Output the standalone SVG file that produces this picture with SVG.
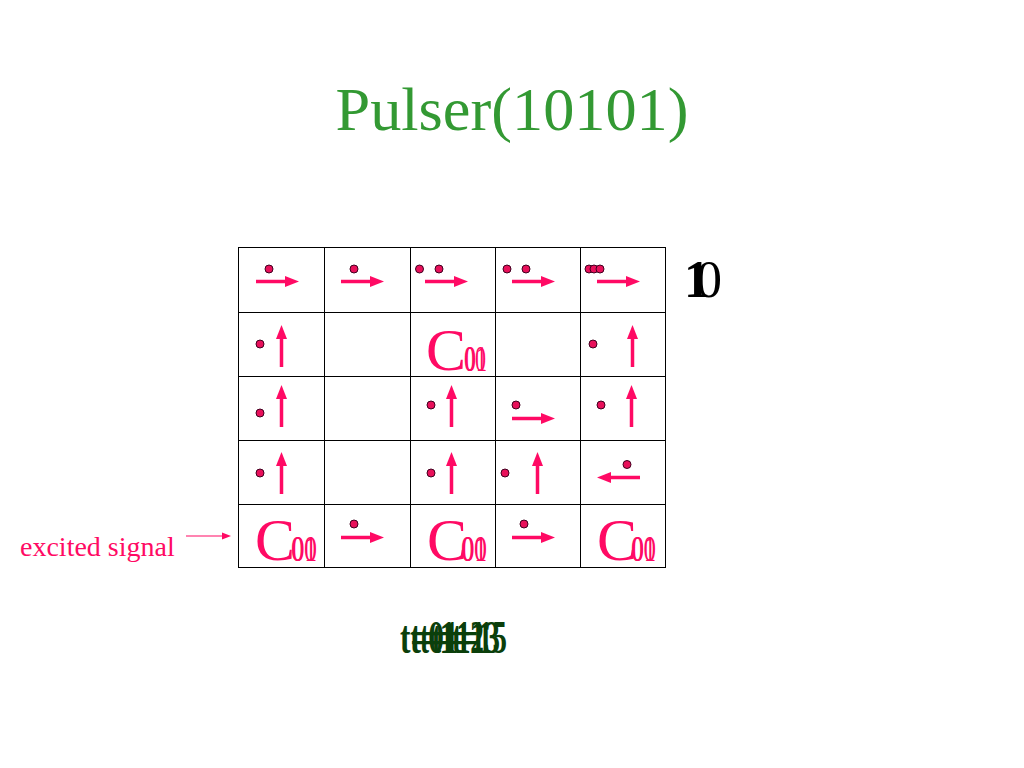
<svg xmlns="http://www.w3.org/2000/svg" width="1024" height="768" viewBox="0 0 1024 768">
<style>
.dot{fill:#e8105a;stroke:#400020;stroke-width:1}
.arr{stroke:#ff0a64;stroke-width:3.5;fill:none}
.head{fill:#ff0a64}
.c{font-family:"Liberation Serif",serif;fill:#ff0a64;font-size:60px}
.sub{font-family:"Liberation Serif",serif;fill:#ff0a64;font-size:36px}
.grid{stroke:#000;stroke-width:1;fill:none}
.t{font-family:"Liberation Serif",serif;fill:#0b3f0b;font-size:46px;font-weight:bold}
</style>
<defs>
<g id="ar"><line x1="0" y1="0" x2="31" y2="0" class="arr"/><polygon points="29,-5.5 43,0 29,5.5" class="head"/></g>
<g id="au"><line x1="0" y1="0" x2="0" y2="-30" class="arr"/><polygon points="-5.5,-28 0,-42 5.5,-28" class="head"/></g>
</defs>
<text x="512" y="130" text-anchor="middle" font-family="Liberation Serif, serif" font-size="62" fill="#339933" textLength="353" lengthAdjust="spacingAndGlyphs">Pulser(10101)</text>
<g id="grid">
<rect x="238.5" y="247.5" width="427" height="320" class="grid"/>
<line x1="324.5" y1="247" x2="324.5" y2="568" class="grid"/>
<line x1="410.5" y1="247" x2="410.5" y2="568" class="grid"/>
<line x1="495.5" y1="247" x2="495.5" y2="568" class="grid"/>
<line x1="580.5" y1="247" x2="580.5" y2="568" class="grid"/>
<line x1="238" y1="312.5" x2="666" y2="312.5" class="grid"/>
<line x1="238" y1="376.5" x2="666" y2="376.5" class="grid"/>
<line x1="238" y1="440.5" x2="666" y2="440.5" class="grid"/>
<line x1="238" y1="504.5" x2="666" y2="504.5" class="grid"/>
</g>
<g id="cells">
<g id="r1c1"><circle cx="269" cy="269" r="4" class="dot"/><use href="#ar" x="256" y="281.5"/></g>
<g id="r1c2"><circle cx="354" cy="269" r="4" class="dot"/><use href="#ar" x="341" y="281.5"/></g>
<g id="r1c3"><circle cx="419.5" cy="269" r="4" class="dot"/><circle cx="439" cy="269" r="4" class="dot"/><use href="#ar" x="425" y="281.5"/></g>
<g id="r1c4"><circle cx="507" cy="269" r="4" class="dot"/><circle cx="526" cy="269" r="4" class="dot"/><use href="#ar" x="512" y="281.5"/></g>
<g id="r1c5"><circle cx="589" cy="269" r="4" class="dot"/><circle cx="594" cy="269" r="4" class="dot"/><circle cx="600" cy="269" r="4" class="dot"/><use href="#ar" x="597" y="281.5"/></g>
<g id="r2c1"><circle cx="260" cy="344" r="4" class="dot"/><use href="#au" x="281.5" y="367"/></g>
<g id="r2c3"><text x="426" y="370" class="c">C</text><text x="464" y="371" class="sub" textLength="22" lengthAdjust="spacingAndGlyphs">00</text><text x="465" y="371" class="sub" textLength="22" lengthAdjust="spacingAndGlyphs">01</text></g>
<g id="r2c5"><circle cx="593" cy="344" r="4" class="dot"/><use href="#au" x="632.5" y="367"/></g>
<g id="r3c1"><circle cx="260" cy="413" r="4" class="dot"/><use href="#au" x="281.5" y="427"/></g>
<g id="r3c3"><circle cx="431" cy="405" r="4" class="dot"/><use href="#au" x="451.5" y="427"/></g>
<g id="r3c4"><circle cx="516" cy="405" r="4" class="dot"/><use href="#ar" x="512" y="418.5"/></g>
<g id="r3c5"><circle cx="601" cy="405" r="4" class="dot"/><use href="#au" x="631.5" y="427"/></g>
<g id="r4c1"><circle cx="260" cy="473" r="4" class="dot"/><use href="#au" x="281.5" y="494"/></g>
<g id="r4c3"><circle cx="431" cy="473" r="4" class="dot"/><use href="#au" x="451.5" y="494"/></g>
<g id="r4c4"><circle cx="505" cy="473" r="4" class="dot"/><use href="#au" x="537.5" y="494"/></g>
<g id="r4c5"><circle cx="627" cy="464.5" r="4" class="dot"/><use href="#ar" transform="translate(640,477.5) scale(-1,1)"/></g>
<g id="r5c1"><text x="255" y="560" class="c">C</text><text x="291" y="561" class="sub" textLength="26" lengthAdjust="spacingAndGlyphs">00</text><text x="292" y="561" class="sub" textLength="25" lengthAdjust="spacingAndGlyphs">01</text></g>
<g id="r5c2"><circle cx="354" cy="524" r="4" class="dot"/><use href="#ar" x="341" y="537.5"/></g>
<g id="r5c3"><text x="427" y="560" class="c">C</text><text x="461" y="561" class="sub" textLength="26" lengthAdjust="spacingAndGlyphs">00</text><text x="462" y="561" class="sub" textLength="25" lengthAdjust="spacingAndGlyphs">01</text></g>
<g id="r5c4"><circle cx="524" cy="524" r="4" class="dot"/><use href="#ar" x="512" y="537.5"/></g>
<g id="r5c5"><text x="597" y="560" class="c">C</text><text x="631" y="561" class="sub" textLength="25" lengthAdjust="spacingAndGlyphs">00</text><text x="632" y="561" class="sub" textLength="24" lengthAdjust="spacingAndGlyphs">01</text></g>
</g>
<g id="output">
<text x="684" y="297" font-family="Liberation Serif, serif" font-size="52" font-weight="bold" fill="#000">1</text>
<text x="696" y="297" font-family="Liberation Serif, serif" font-size="52" fill="#000">0</text>
</g>
<g id="excited">
<text x="20" y="556" font-family="Liberation Serif, serif" font-size="28" fill="#ff0a64">excited signal</text>
<line x1="186" y1="536" x2="226" y2="536" stroke="#ff0a64" stroke-width="1.2"/>
<polygon points="222,532.5 231,536 222,539.5" fill="#ff0a64"/>
</g>
<g id="time">
<text x="400" y="653" class="t" textLength="44" lengthAdjust="spacingAndGlyphs">t=0</text>
<text x="410" y="653" class="t" textLength="46" lengthAdjust="spacingAndGlyphs">t=1</text>
<text x="420" y="653" class="t" textLength="50" lengthAdjust="spacingAndGlyphs">t=11</text>
<text x="432" y="653" class="t" textLength="52" lengthAdjust="spacingAndGlyphs">t=12</text>
<text x="444" y="653" class="t" textLength="56" lengthAdjust="spacingAndGlyphs">t=13</text>
<text x="452" y="653" class="t" textLength="55" lengthAdjust="spacingAndGlyphs">t=15</text>
</g>
</svg>
